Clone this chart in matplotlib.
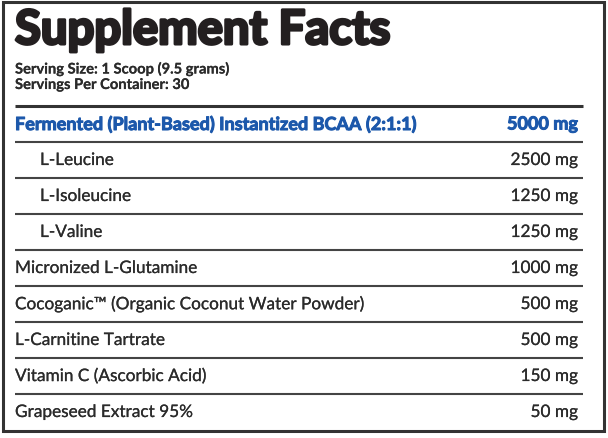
import matplotlib.pyplot as plt
import matplotlib.patheffects as pe
from matplotlib.patches import Rectangle

title = "Supplement Facts"
serving_lines = ["Serving Size: 1 Scoop (9.5 grams)", "Servings Per Container: 30"]

ingredients = [
    "Fermented (Plant-Based) Instantized BCAA (2:1:1)",
    "L-Leucine",
    "L-Isoleucine",
    "L-Valine",
    "Micronized L-Glutamine",
    "Cocoganic\u2122 (Organic Coconut Water Powder)",
    "L-Carnitine Tartrate",
    "Vitamin C (Ascorbic Acid)",
    "Grapeseed Extract 95%",
]
amounts_mg = [5000, 2500, 1250, 1250, 1000, 500, 500, 150, 50]
sub_items = ["L-Leucine", "L-Isoleucine", "L-Valine"]
highlight = "Fermented (Plant-Based) Instantized BCAA (2:1:1)"

W, H = 608, 439
fig = plt.figure(figsize=(W / 100, H / 100), dpi=100)
ax = fig.add_axes([0, 0, 1, 1])
ax.set_xlim(0, W)
ax.set_ylim(H, 0)
ax.axis("off")

dark = "#2b2b2b"
blue = "#1c58ab"
font = "Lato"


def heavy(color, lw):
    return [pe.withStroke(linewidth=lw, foreground=color)]


# outer box
ax.add_patch(Rectangle((2.5, 2.5), 601, 430, fill=False, lw=2.2, ec="#333333"))

ax.text(15, 45, title, fontsize=34, fontweight="bold", family=font,
        color="#231f20", va="baseline", path_effects=heavy("#231f20", 2.2))

for i, s in enumerate(serving_lines):
    ax.text(15, 70 + 16 * i, s, fontsize=10.6, family=font, color=dark,
            fontweight="bold", va="center", path_effects=heavy(dark, 0.1))

left, right = 15, 583
ax.plot([left, right], [107, 107], color="#333333", lw=2.2, solid_capstyle="butt")

pitch = 36
for i, (name, mg) in enumerate(zip(ingredients, amounts_mg)):
    y = 125 + pitch * i
    is_hl = name == highlight
    color = blue if is_hl else dark
    weight = "bold" if is_hl else "normal"
    size = 13 if is_hl else 12.4
    fx = heavy(color, 0.7 if is_hl else 0.15)
    x = 40 if name in sub_items else 15
    ax.text(x, y, name, fontsize=size, family=font, color=color,
            fontweight=weight, va="center", path_effects=fx)
    ax.text(578, y, f"{mg} mg", fontsize=size, family=font, color=color,
            fontweight=weight, va="center", ha="right", path_effects=fx)
    if i < len(ingredients) - 1:
        ax.plot([left, right], [y + 18, y + 18], color="#444444", lw=1.5,
                solid_capstyle="butt")

fig.savefig("out.png", dpi=100, facecolor="white")
